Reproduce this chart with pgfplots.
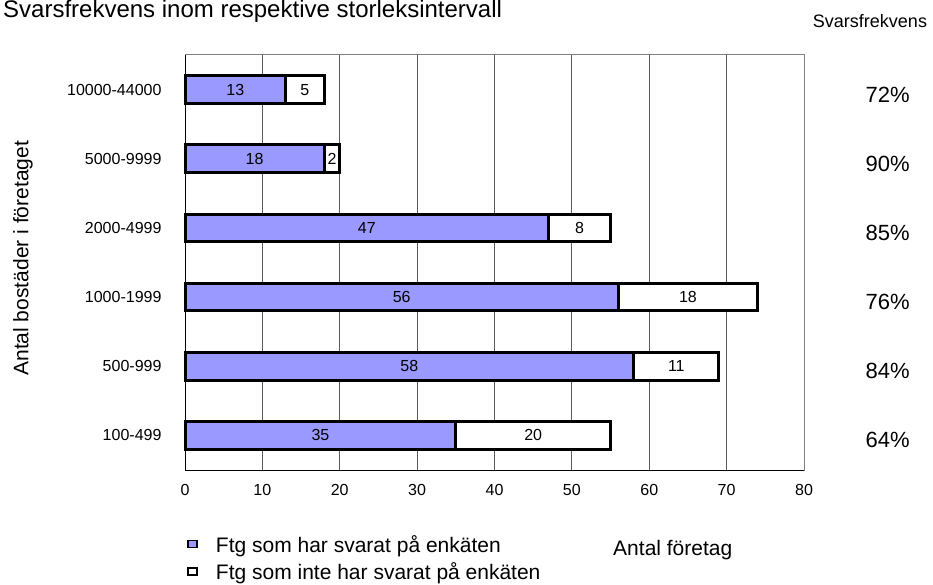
\documentclass[border=0pt]{standalone}
\usepackage{pgfplots}
\pgfplotsset{compat=1.18}
\usepackage{pgfplotstable}
\usepackage{fontspec}
\setmainfont{Liberation Sans}
\definecolor{barblue}{RGB}{153,153,255}
\newcommand{\fs}[1]{\fontsize{#1}{#1}\selectfont}

% y = category index, a = svarat, b = inte svarat, p = svarsfrekvens
\pgfplotstableread{
y a b p
0 35 20 64
1 58 11 84
2 56 18 76
3 47 8 85
4 18 2 90
5 13 5 72
}\data

\begin{document}
\begin{tikzpicture}[x=1pt,y=1pt]
\path[use as bounding box] (0,0) rectangle (933,584);
\node[anchor=base west, inner sep=0pt, font=\fs{24}] at (3,566) {Svarsfrekvens inom respektive storleksintervall};
\begin{axis}[
  at={(185pt,114pt)}, anchor=south west,
  scale only axis, width=619pt, height=415pt,
  xmin=0, xmax=80, ymin=-0.5, ymax=5.5,
  xtick={0,10,...,80}, ytick={0,...,5},
  yticklabels={100-499,500-999,1000-1999,2000-4999,5000-9999,10000-44000},
  /pgf/number format/assume math mode=true,
  ticklabel style={font=\fs{16}},
  yticklabel style={xshift=-20pt},
  xticklabel style={yshift=-11pt},
  major tick length=0pt,
  xmajorgrids, major grid style={black!65, line width=1pt},
  axis line style={gray, line width=1pt},
  clip=false,
  xlabel={Antal företag},
  xlabel style={font=\fs{21}, at={(rel axis cs:0.788,-0.192)}, anchor=center},
  ylabel={Antal bostäder i företaget},
  ylabel style={font=\fs{21}, at={(rel axis cs:-0.262,0.51)}, anchor=center},
  legend style={at={(rel axis cs:0.003,-0.152)}, anchor=north west, draw=none, fill=none,
    font=\fs{21}, row sep=5pt, inner sep=0pt, cells={anchor=west}},
  legend image code/.code={\draw[#1, line width=1.8pt] (0pt,-3pt) rectangle (9pt,4pt);
    \path[draw=none, fill=none] (0pt,0pt) -- (26pt,0pt);},
]
% totals (white) first, then the answered part on top
\addplot[xbar, bar width=0.40, bar shift=0pt, fill=white, draw=black, line width=3pt, forget plot]
  table[x expr=\thisrow{a}+\thisrow{b}, y=y]{\data};
\addplot[xbar, bar width=0.40, bar shift=0pt, fill=barblue, draw=black, line width=3pt, forget plot]
  table[x=a, y=y]{\data};

% value labels in the middle of each segment
\addplot[draw=none, mark=none, forget plot, nodes near coords, point meta=explicit symbolic,
  nodes near coords style={anchor=center, font=\fs{16}}]
  table[x expr=\thisrow{a}/2, y=y, meta=a]{\data};
\addplot[draw=none, mark=none, forget plot, nodes near coords, point meta=explicit symbolic,
  nodes near coords style={anchor=center, font=\fs{16}}]
  table[x expr=\thisrow{a}+\thisrow{b}/2, y=y, meta=b]{\data};

% svarsfrekvens to the right
\addplot[draw=none, mark=none, forget plot, nodes near coords={\pgfplotspointmeta\%}, point meta=explicit symbolic,
  nodes near coords style={anchor=center, font=\fs{22}, yshift=-5pt}]
  table[x expr=90.8, y=y, meta=p]{\data};

\draw[black, line width=1pt] (rel axis cs:0,1) -- (rel axis cs:0,0) -- (rel axis cs:1,0);
\node[font=\fs{18}, anchor=center] at (rel axis cs:1.1066,1.082) {Svarsfrekvens};

\addlegendimage{fill=barblue, draw=black}
\addlegendentry{Ftg som har svarat på enkäten}
\addlegendimage{fill=white, draw=black}
\addlegendentry{Ftg som inte har svarat på enkäten}
\end{axis}
\end{tikzpicture}
\end{document}
